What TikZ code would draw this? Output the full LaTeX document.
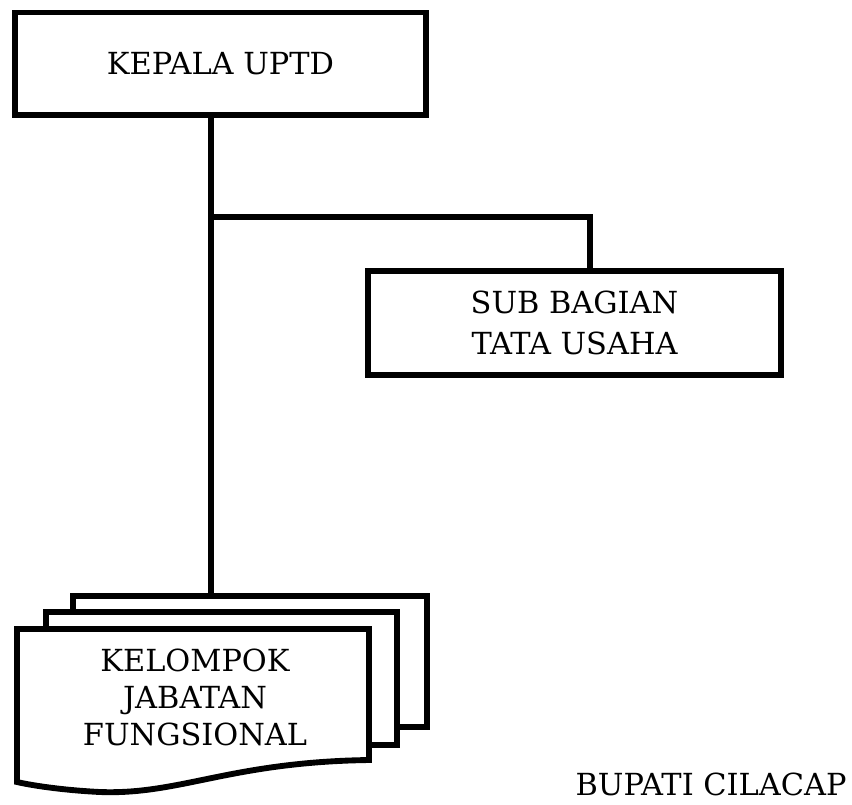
\documentclass[tikz,border=0pt]{standalone}
\usepackage{fontspec}
\setmainfont{DejaVu Serif}
\usetikzlibrary{positioning}

\begin{document}
\begin{tikzpicture}[x=0.75pt,y=-0.75pt,
  every node/.style={font=\fontsize{22.8}{30.75}\selectfont},
  unit/.style={draw,line width=4.4pt,fill=white,inner sep=0pt,outer sep=0pt,align=center},
  link/.style={line width=4.4pt},
  sheet/.style={draw,line width=4.4pt,fill=white}]
  \useasboundingbox (0,0) rectangle (852,804);
%%
  \node (kepala) at (220.5,63.75) [unit,minimum width=308.25pt,minimum height=76.9pt] {KEPALA UPTD};

  \node (subbag) at (574.5,323) [unit,minimum width=309.75pt,minimum height=78pt] {SUB BAGIAN\\TATA USAHA};

  % tumpukan lembar
  \draw [sheet] (73,596) rectangle (427,727);
  \draw [sheet] (46,612) rectangle (397,745);
  \draw [sheet] (17,629) -- (369,629) -- (369,760) .. controls (230,762) and (180,795) .. (100,792) .. controls (60,790) and (30,785) .. (17,782) -- cycle;

  \node (kelompok) at (195,697.5) [align=center,font=\fontsize{22.8}{28}\selectfont] {KELOMPOK\\JABATAN\\FUNGSIONAL};

  \node (bupati) at (711,784) {BUPATI CILACAP};

  \coordinate (fork) at (211,217);
  \coordinate (sub_in) at (590,271);
  \coordinate (kel_in) at (211,596);

  \draw [link] (kepala.south -| fork) -- (kel_in);
  \draw [link] (fork) -| (sub_in);
%
\end{tikzpicture}
\end{document}
